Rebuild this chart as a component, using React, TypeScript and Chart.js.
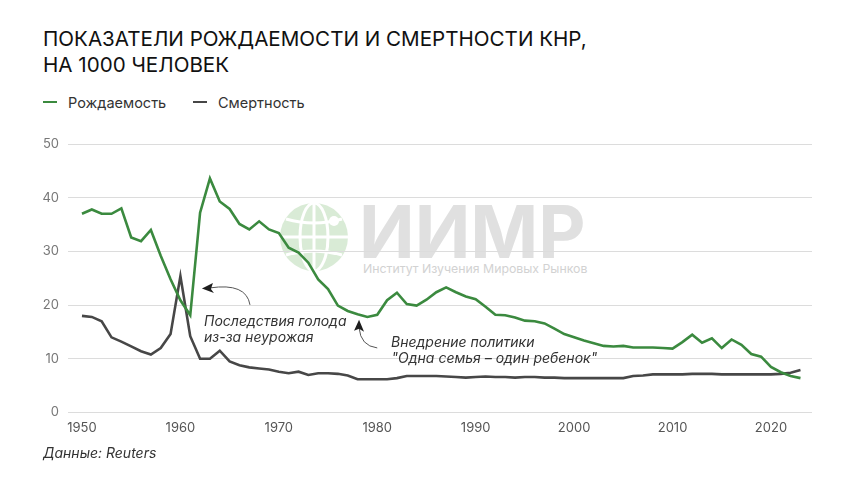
import React, { useEffect, useRef } from "react";
import { Chart, registerables } from "chart.js";

Chart.register(...registerables);

const years = [
  1950, 1951, 1952, 1953, 1954, 1955, 1956, 1957, 1958, 1959,
  1960, 1961, 1962, 1963, 1964, 1965, 1966, 1967, 1968, 1969,
  1970, 1971, 1972, 1973, 1974, 1975, 1976, 1977, 1978, 1979,
  1980, 1981, 1982, 1983, 1984, 1985, 1986, 1987, 1988, 1989,
  1990, 1991, 1992, 1993, 1994, 1995, 1996, 1997, 1998, 1999,
  2000, 2001, 2002, 2003, 2004, 2005, 2006, 2007, 2008, 2009,
  2010, 2011, 2012, 2013, 2014, 2015, 2016, 2017, 2018, 2019,
  2020, 2021, 2022, 2023,
];

const birthRate = [
  37.0, 37.8, 37.0, 37.0, 38.0, 32.6, 31.9, 34.0, 29.2, 24.8,
  20.9, 18.1, 37.2, 43.6, 39.3, 37.9, 35.1, 34.1, 35.6, 34.1,
  33.4, 30.7, 29.8, 27.9, 24.8, 23.0, 19.9, 18.9, 18.3, 17.8,
  18.2, 20.9, 22.3, 20.2, 19.9, 21.0, 22.4, 23.3, 22.4, 21.6,
  21.1, 19.7, 18.2, 18.1, 17.7, 17.1, 17.0, 16.6, 15.6, 14.6,
  14.0, 13.4, 12.9, 12.4, 12.3, 12.4, 12.1, 12.1, 12.1, 12.0,
  11.9, 13.1, 14.5, 13.0, 13.8, 12.0, 13.6, 12.6, 10.9, 10.4,
  8.5, 7.5, 6.8, 6.4,
];

const deathRate = [
  18.0, 17.8, 17.0, 14.0, 13.2, 12.3, 11.4, 10.8, 12.0, 14.6,
  25.4, 14.2, 10.0, 10.0, 11.5, 9.5, 8.8, 8.4, 8.2, 8.0,
  7.6, 7.3, 7.6, 7.0, 7.3, 7.3, 7.2, 6.9, 6.2, 6.2,
  6.2, 6.2, 6.4, 6.8, 6.8, 6.8, 6.8, 6.7, 6.6, 6.5,
  6.6, 6.7, 6.6, 6.6, 6.5, 6.6, 6.6, 6.5, 6.5, 6.4,
  6.4, 6.4, 6.4, 6.4, 6.4, 6.4, 6.8, 6.9, 7.1, 7.1,
  7.1, 7.1, 7.2, 7.2, 7.2, 7.1, 7.1, 7.1, 7.1, 7.1,
  7.1, 7.2, 7.4, 7.9,
];

const xTicks = [1950, 1960, 1970, 1980, 1990, 2000, 2010, 2020];
const yTicks = [0, 10, 20, 30, 40, 50];

const seriesLabels = ["Рождаемость", "Смертность"];
const seriesColors = ["#3b8a3f", "#474747"];

const titleText = "Показатели рождаемости и смертности КНР,";
const titleText2 = "на 1000 человек";
const sourceText = "Данные: Reuters";

const annotation1 = ["Последствия голода", "из-за неурожая"];
const annotation2 = ["Внедрение политики", "\"Одна семья – один ребенок\""];

const FONT = "Inter, 'Noto Sans', sans-serif";

const annotationPlugin = {
  id: "annotations",
  afterDatasetsDraw(chart: any) {
    const { ctx, scales } = chart;
    const X = (v: number) => scales.x.getPixelForValue(v);
    const Y = (v: number) => scales.y.getPixelForValue(v);
    ctx.save();
    ctx.font = `italic 14px ${FONT}`;
    ctx.fillStyle = "#333";
    ctx.textBaseline = "middle";
    ctx.textAlign = "left";
    ctx.fillText(annotation1[0], X(1962.4), Y(16.87));
    ctx.fillText(annotation1[1], X(1962.4), Y(13.89));
    ctx.fillText(annotation2[0], X(1981.4), Y(12.95));
    ctx.fillText(annotation2[1], X(1981.45), Y(9.97));

    const arrow = (
      tx: number, ty: number, cx: number, cy: number, hx: number, hy: number, dir: "left" | "up"
    ) => {
      ctx.strokeStyle = "#555";
      ctx.lineWidth = 1;
      ctx.beginPath();
      ctx.moveTo(X(tx), Y(ty));
      ctx.quadraticCurveTo(X(cx), Y(cy), X(hx), Y(hy));
      ctx.stroke();
      const px = X(hx);
      const py = Y(hy);
      ctx.fillStyle = "#1e1e1e";
      ctx.beginPath();
      if (dir === "left") {
        ctx.moveTo(px - 8, py + 0.5);
        ctx.lineTo(px + 3, py - 5);
        ctx.lineTo(px + 1, py + 1);
        ctx.lineTo(px + 4, py + 5);
      } else {
        ctx.moveTo(px, py - 8);
        ctx.lineTo(px + 5, py + 4);
        ctx.lineTo(px, py + 1);
        ctx.lineTo(px - 5, py + 3);
      }
      ctx.closePath();
      ctx.fill();
    };
    arrow(1967.07, 20.04, 1966.7, 24.2, 1963.0, 23.2, "left");
    arrow(1980.0, 12.02, 1978.3, 12.4, 1978.15, 15.8, "up");
    ctx.restore();
  },
};

function ChartCanvas() {
  const ref = useRef<HTMLCanvasElement>(null);
  useEffect(() => {
    if (!ref.current) return;
    const chart = new Chart(ref.current, {
      type: "line",
      data: {
        datasets: [birthRate, deathRate].map((vals, i) => ({
          label: seriesLabels[i],
          data: years.map((y, k) => ({ x: y, y: vals[k] })),
          borderColor: seriesColors[i],
          backgroundColor: seriesColors[i],
          borderWidth: 2.6,
          pointRadius: 0,
          tension: 0,
          borderJoinStyle: "miter" as const,
        })),
      },
      options: {
        animation: false,
        responsive: false,
        maintainAspectRatio: false,
        layout: { padding: { left: 0, right: 48, top: 144, bottom: 41.5 } },
        plugins: {
          legend: { display: false },
          title: { display: false },
          tooltip: { enabled: false },
        },
        scales: {
          x: {
            type: "linear",
            min: 1948.58,
            max: 2024.17,
            grid: { display: false, drawTicks: false },
            border: { display: false },
            afterBuildTicks: (s: any) => {
              s.ticks = xTicks.map((v) => ({ value: v }));
            },
            afterFit: (s: any) => {
              s.height = 30;
            },
            ticks: {
              autoSkip: false,
              maxRotation: 0,
              padding: 8,
              color: "#555",
              font: { family: FONT, size: 13 },
              callback: (v: any) => String(v),
            },
          },
          y: {
            min: 0,
            max: 50,
            afterBuildTicks: (s: any) => {
              s.ticks = yTicks.map((v) => ({ value: v }));
            },
            afterFit: (s: any) => {
              s.width = 68;
            },
            grid: { color: "#dcdcdc", lineWidth: 1, drawTicks: false },
            border: { display: false },
            ticks: {
              padding: 9,
              color: "#777",
              font: { family: FONT, size: 13 },
            },
          },
        },
      },
      plugins: [annotationPlugin],
    });
    return () => chart.destroy();
  }, []);
  return (
    <canvas
      ref={ref}
      width={860}
      height={484}
      style={{ position: "absolute", left: 0, top: 0, width: 860, height: 484 }}
    />
  );
}

export default function App() {
  useEffect(() => {
    document.body.style.margin = "0";
  }, []);
  return (
    <div
      style={{
        position: "relative",
        width: 860,
        height: 484,
        background: "#fff",
        overflow: "hidden",
        fontFamily: FONT,
      }}
    >
      {/* watermark */}
      <svg
        width={80}
        height={80}
        style={{ position: "absolute", left: 274, top: 197 }}
        viewBox="0 0 80 80"
      >
        <circle cx={40} cy={40} r={34} fill="#d9ebd6" />
        <ellipse cx={40} cy={40} rx={14} ry={34} fill="none" stroke="#fff" strokeWidth={3} />
        <line x1={40} y1={6} x2={40} y2={74} stroke="#fff" strokeWidth={3} />
        <line x1={6} y1={40} x2={74} y2={40} stroke="#fff" strokeWidth={3} />
        <path d="M12 22 Q40 30 68 22" fill="none" stroke="#fff" strokeWidth={3} />
        <path d="M12 58 Q40 50 68 58" fill="none" stroke="#fff" strokeWidth={3} />
        <circle cx={60} cy={24} r={5} fill="#fff" />
      </svg>
      <div
        style={{
          position: "absolute",
          left: 359,
          top: 187,
          fontSize: 73,
          fontWeight: 700,
          color: "#e0e0e0",
          lineHeight: "90px",
        }}
      >
        ИИМР
      </div>
      <div
        style={{
          position: "absolute",
          left: 363,
          top: 261,
          fontSize: 12.3,
          color: "#d2d2d2",
          whiteSpace: "nowrap",
        }}
      >
        Институт Изучения Мировых Рынков
      </div>

      {/* title */}
      <div
        style={{
          position: "absolute",
          left: 43,
          top: 26,
          fontSize: 20.6,
          lineHeight: "26px",
          color: "#111",
          textTransform: "uppercase",
          whiteSpace: "nowrap",
        }}
      >
        <div>{titleText}</div>
        <div>{titleText2}</div>
      </div>

      {/* legend */}
      {seriesLabels.map((lab, i) => (
        <div
          key={lab}
          style={{
            position: "absolute",
            left: i === 0 ? 43 : 193,
            top: 92,
            height: 20,
            display: "flex",
            alignItems: "center",
            whiteSpace: "nowrap",
          }}
        >
          <span
            style={{
              display: "inline-block",
              width: 14,
              height: 2.5,
              background: seriesColors[i],
              marginRight: 11,
            }}
          />
          <span style={{ fontSize: 14.5, color: "#333" }}>{lab}</span>
        </div>
      ))}

      <ChartCanvas />

      {/* source */}
      <div
        style={{
          position: "absolute",
          left: 43,
          top: 444,
          fontSize: 14,
          fontStyle: "italic",
          color: "#333",
          whiteSpace: "nowrap",
        }}
      >
        {sourceText}
      </div>
    </div>
  );
}
